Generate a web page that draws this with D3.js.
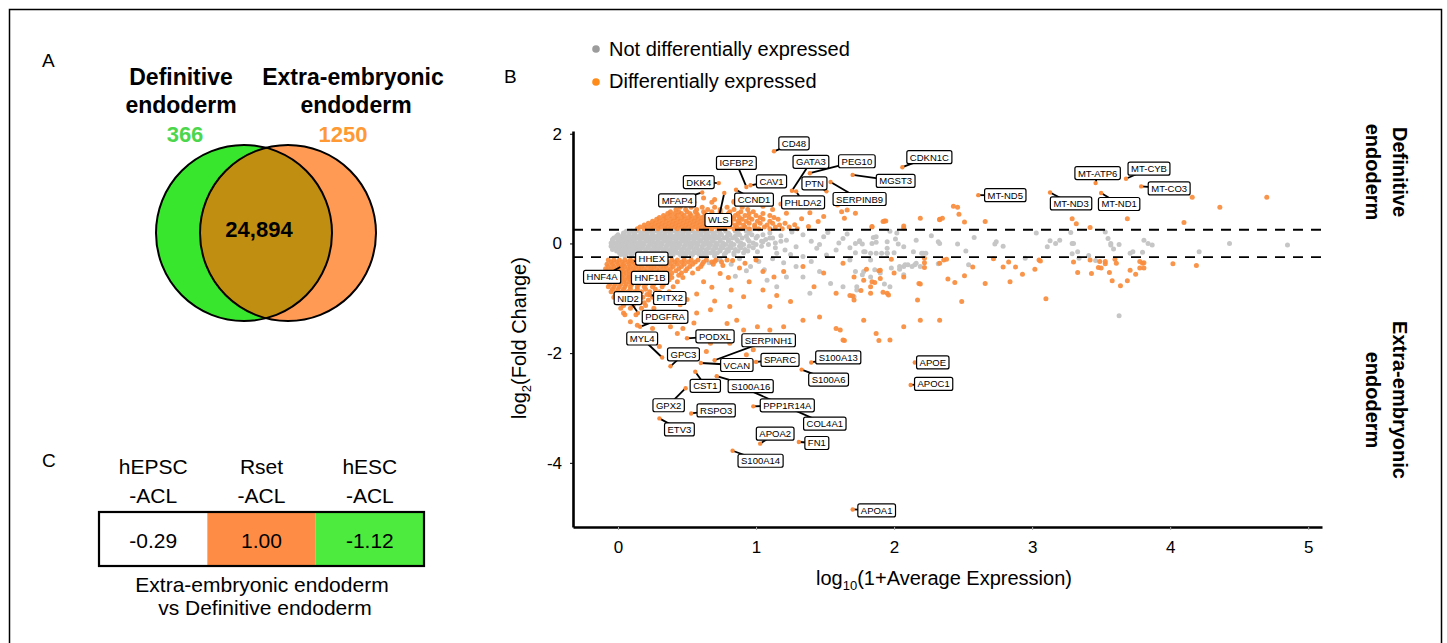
<!DOCTYPE html>
<meta charset="utf-8">
<head>
<style>
  body { margin: 0; background: #fff; font-family: "Liberation Sans", Arial, Helvetica, sans-serif; }
  svg { display: block; }
</style>
<script src="https://cdn.jsdelivr.net/npm/d3@7"></script>
</head>
<body>
<svg id="fig"></svg>
<script>
// ---- panel A: venn
let vennNames = [["Definitive", "endoderm"], ["Extra-embryonic", "endoderm"]]
let vennOnly = [366, 1250]
let vennShared = 24894

// ---- panel C: table
let tableHeads = [["hEPSC", "-ACL"], ["Rset", "-ACL"], ["hESC", "-ACL"]]
let tableValues = [-0.29, 1.00, -1.12]
let tableCaption = ["Extra-embryonic endoderm", "vs Definitive endoderm"]

// ---- panel B: MA plot
let xTicks = [0, 1, 2, 3, 4, 5]
let yTicks = [2, 0, -2, -4]
let xDomain = [-0.326, 5.1]
let yDomain = [-5.17, 2.05]
let foldCut = 0.25
let legendItems = ["Not differentially expressed", "Differentially expressed"]
let sideLabels = [["Definitive", "endoderm"], ["Extra-embryonic", "endoderm"]]

// dense core of non-DE genes, read row by row (y, x values)
let greyBand = [
  {y: 0.22, xs: [0.06,0.10,0.15,0.19,0.23,0.28,0.32,0.36,0.41,0.45,0.49,0.54,0.58,0.62,0.67,0.72,0.78,0.85,0.93]},
  {y: 0.19, xs: [0.04,0.08,0.12,0.17,0.21,0.25,0.30,0.34,0.38,0.43,0.47,0.51,0.56,0.60,0.64,0.69,0.74,0.80,0.87,0.95]},
  {y: 0.16, xs: [0.00,0.04,0.08,0.12,0.17,0.21,0.25,0.30,0.34,0.38,0.43,0.47,0.51,0.56,0.60,0.65,0.70,0.75,0.81,0.88,0.97,1.05]},
  {y: 0.13, xs: [-0.01,0.03,0.07,0.11,0.15,0.19,0.24,0.28,0.32,0.37,0.41,0.45,0.50,0.54,0.58,0.63,0.68,0.73,0.79,0.85,0.93,1.01]},
  {y: 0.10, xs: [-0.03,0.01,0.05,0.09,0.14,0.18,0.22,0.27,0.31,0.35,0.40,0.44,0.48,0.53,0.57,0.62,0.66,0.71,0.77,0.83,0.90,1.00,1.12]},
  {y: 0.07, xs: [-0.04,0.00,0.03,0.07,0.11,0.16,0.20,0.24,0.29,0.33,0.37,0.42,0.46,0.50,0.55,0.59,0.64,0.68,0.74,0.80,0.86,0.94,1.07]},
  {y: 0.04, xs: [-0.04,0.00,0.04,0.08,0.12,0.16,0.21,0.25,0.29,0.34,0.38,0.42,0.47,0.51,0.55,0.60,0.64,0.69,0.74,0.80,0.87,0.95,1.04,1.18]},
  {y: 0.01, xs: [-0.05,-0.02,0.02,0.06,0.10,0.14,0.18,0.23,0.27,0.31,0.36,0.40,0.44,0.49,0.53,0.57,0.62,0.66,0.71,0.76,0.82,0.89,0.98,1.14]},
  {y: -0.02, xs: [-0.04,0.00,0.03,0.07,0.11,0.15,0.19,0.24,0.28,0.32,0.37,0.41,0.45,0.50,0.54,0.58,0.63,0.67,0.72,0.78,0.84,0.91,1.00,1.09]},
  {y: -0.05, xs: [-0.05,-0.01,0.02,0.06,0.10,0.14,0.18,0.22,0.27,0.31,0.35,0.40,0.44,0.48,0.53,0.57,0.61,0.66,0.70,0.75,0.81,0.88,0.95,1.04]},
  {y: -0.08, xs: [-0.03,0.01,0.05,0.09,0.13,0.17,0.22,0.26,0.30,0.35,0.39,0.43,0.48,0.52,0.57,0.61,0.66,0.71,0.76,0.82,0.89,0.98]},
  {y: -0.11, xs: [-0.04,0.00,0.04,0.08,0.12,0.16,0.20,0.25,0.29,0.33,0.38,0.42,0.46,0.51,0.55,0.60,0.64,0.69,0.74,0.79,0.85,0.92]},
  {y: -0.14, xs: [-0.01,0.03,0.07,0.11,0.15,0.20,0.24,0.28,0.33,0.37,0.41,0.46,0.50,0.55,0.59,0.64,0.69,0.74,0.80,0.87,0.94]},
  {y: -0.17, xs: [0.01,0.05,0.09,0.13,0.17,0.22,0.26,0.30,0.35,0.39,0.43,0.48,0.52,0.57,0.62,0.67,0.72,0.78,0.84,0.91]},
  {y: -0.20, xs: [0.02,0.06,0.10,0.14,0.18,0.23,0.27,0.31,0.36,0.40,0.45,0.49,0.54,0.59,0.64,0.70,0.77,0.84]},
  {y: -0.23, xs: [0.05,0.10,0.16,0.21,0.27,0.33,0.39,0.46,0.53,0.61,0.70]}
]

let greyScatter = [
  [1.72,0.00],[1.75,0.05],[1.77,-0.01],[1.72,-0.17],[1.79,-0.15],[1.83,-0.18],[1.84,0.00],[1.85,0.11],[1.87,0.02],[1.87,-0.18],
  [1.91,-0.18],[1.95,0.03],[1.95,-0.09],[1.95,-0.18],[1.97,0.22],[2.01,0.08],[2.03,-0.01],[2.00,-0.17],[2.07,-0.42],[2.08,-0.39],
  [2.10,-0.39],[2.14,-0.15],[2.20,-0.18],[2.21,-0.18],[2.23,-0.18],[2.27,0.14],[2.32,0.03],[2.33,0.00],[2.46,-0.01],[2.52,-0.14],
  [2.54,-0.39],[2.58,0.11],[2.74,0.03],[2.73,-0.01],[2.79,-0.05],[2.95,-0.27],[3.03,0.19],[3.11,-0.06],[3.13,0.05],[3.17,0.00],
  [3.20,0.06],[3.28,0.20],[3.29,0.00],[3.30,0.00],[3.29,-0.19],[3.33,-0.15],[3.34,-0.27],[3.41,-0.22],[3.46,-0.31],[3.53,0.21],
  [3.55,0.09],[3.57,0.00],[3.57,-0.03],[3.59,-0.10],[3.63,-0.02],[3.71,-0.18],[3.73,-0.15],[3.80,-0.16],[3.81,0.06],[3.84,0.00],
  [3.87,-0.03],[4.21,-0.15],[4.43,0.00],[4.85,-0.03],[3.63,-1.32],
  [1.72,-0.51],[1.78,-0.51],[1.77,-0.57],[1.86,-0.48],[1.73,-0.79],[1.93,-0.74],[1.71,-0.97],[1.98,-0.45],[2.04,-0.47],[2.07,-0.57],
  [2.13,-0.42],[2.15,-0.39],[2.19,-0.42],[2.32,-0.37],
  [0.96,-0.42],[1.08,-0.67],[1.15,-0.79],[1.22,-0.61],[1.29,-0.42],[1.34,-0.61],[1.46,-0.51],[1.54,-0.73],[1.63,-0.79],[1.73,-0.85],
  [1.39,-0.91],[1.83,-0.61],[1.90,-0.54],[1.97,-0.79],[2.04,-0.42],[2.16,-0.36],
  [1.34,0.16],[1.49,0.12],[1.63,0.09],[1.75,0.03],[1.87,0.12],[2.02,0.19],[2.16,0.06],[2.07,-0.06],[1.95,-0.18],[1.78,-0.15],
  [1.58,-0.12],[1.44,-0.09],[1.29,-0.06],[1.22,0.06],[1.10,0.19],[1.15,-0.18],[1.01,-0.15],[0.96,0.25],[1.34,-0.24],[1.51,-0.21],
  [1.68,-0.30],[1.83,-0.30],
  [0.66,-0.35],[0.74,-0.30],[0.82,-0.38],[0.88,-0.28],[0.93,-0.50],[1.02,-0.33],[1.12,-0.28],[1.06,-0.48],[0.85,-0.60],[1.20,-0.35],
  [1.25,-0.20],[1.40,-0.33],[1.10,0.10],[1.18,0.14],[1.26,0.21],[1.05,0.03],[1.14,-0.08],[1.21,-0.12],[1.40,0.04],[1.46,-0.02],
  [1.52,0.20],[1.60,0.01],[1.66,0.17],[1.68,-0.08]
]

// dense DE genes above and below the cut, row by row
let orangeUpper = [
  {y: 0.27, xs: [0.14,0.19,0.24,0.29,0.34,0.38,0.43,0.48,0.53,0.58,0.63,0.68,0.73,0.78,0.84,0.89,0.95,1.02,1.10,1.19,1.30]},
  {y: 0.30, xs: [0.16,0.21,0.26,0.31,0.36,0.41,0.46,0.51,0.56,0.61,0.66,0.71,0.76,0.81,0.86,0.92,0.99,1.06,1.14,1.24]},
  {y: 0.335, xs: [0.19,0.24,0.29,0.34,0.39,0.44,0.49,0.54,0.59,0.64,0.69,0.74,0.79,0.85,0.91,0.99,1.08,1.17]},
  {y: 0.37, xs: [0.22,0.27,0.32,0.37,0.42,0.47,0.52,0.57,0.62,0.67,0.72,0.77,0.82,0.88,0.95,1.03,1.12,1.21]},
  {y: 0.405, xs: [0.25,0.30,0.35,0.40,0.45,0.50,0.55,0.60,0.65,0.70,0.75,0.81,0.87,0.93,1.01,1.10]},
  {y: 0.44, xs: [0.28,0.33,0.38,0.43,0.48,0.53,0.58,0.63,0.68,0.73,0.78,0.84,0.90,0.97,1.05,1.16]},
  {y: 0.475, xs: [0.30,0.35,0.41,0.46,0.51,0.56,0.61,0.66,0.71,0.76,0.82,0.88,0.95,1.03,1.13]},
  {y: 0.51, xs: [0.33,0.38,0.43,0.48,0.53,0.58,0.63,0.68,0.73,0.79,0.85,0.92,1.00,1.10]},
  {y: 0.545, xs: [0.36,0.41,0.46,0.52,0.57,0.63,0.68,0.74,0.80,0.87,0.95,1.05]},
  {y: 0.58, xs: [0.38,0.44,0.50,0.56,0.62,0.68,0.74,0.81,0.89,0.98]},
  {y: 0.62, xs: [0.42,0.49,0.57,0.65,0.74,0.84,0.94]},
  {y: 0.66, xs: [0.45,0.53,0.61,0.70,0.79,0.90]},
  {y: 0.75, xs: [0.55,0.68,0.84]}
]
let orangeLower = [
  {y: -0.30, xs: [-0.07,-0.03,0.01,0.05,0.09,0.13,0.17,0.21,0.26,0.30,0.34,0.39,0.43,0.48,0.53,0.58,0.64,0.71,0.79]},
  {y: -0.34, xs: [-0.05,-0.01,0.03,0.07,0.11,0.15,0.19,0.23,0.28,0.32,0.36,0.41,0.46,0.51,0.56,0.62,0.68,0.75]},
  {y: -0.38, xs: [-0.08,-0.04,0.00,0.04,0.08,0.12,0.16,0.20,0.24,0.29,0.33,0.38,0.43,0.48,0.54,0.61,0.69]},
  {y: -0.42, xs: [-0.07,-0.03,0.01,0.05,0.09,0.13,0.17,0.22,0.26,0.31,0.35,0.40,0.46,0.52,0.60]},
  {y: -0.46, xs: [-0.09,-0.05,-0.01,0.03,0.07,0.11,0.15,0.19,0.24,0.28,0.33,0.38,0.44,0.50,0.58]},
  {y: -0.50, xs: [-0.08,-0.04,0.00,0.04,0.08,0.12,0.16,0.21,0.25,0.30,0.36,0.42,0.49]},
  {y: -0.54, xs: [-0.10,-0.06,-0.02,0.02,0.06,0.10,0.14,0.18,0.23,0.28,0.33,0.39,0.46,0.54]},
  {y: -0.58, xs: [-0.08,-0.04,0.00,0.04,0.08,0.12,0.16,0.21,0.26,0.31,0.37,0.44]},
  {y: -0.62, xs: [-0.09,-0.05,-0.01,0.03,0.07,0.11,0.16,0.21,0.26,0.32,0.39,0.47]},
  {y: -0.66, xs: [-0.07,-0.03,0.01,0.05,0.09,0.14,0.19,0.24,0.30,0.37]},
  {y: -0.70, xs: [-0.08,-0.04,0.00,0.04,0.08,0.12,0.17,0.22,0.28,0.35,0.43]},
  {y: -0.745, xs: [-0.06,-0.02,0.02,0.06,0.10,0.15,0.20,0.26,0.33]},
  {y: -0.79, xs: [-0.07,-0.03,0.01,0.05,0.09,0.14,0.19,0.25,0.32,0.40]},
  {y: -0.835, xs: [-0.04,0.00,0.04,0.09,0.14,0.20,0.27]},
  {y: -0.88, xs: [-0.05,-0.01,0.03,0.07,0.12,0.17,0.23,0.30,0.37]},
  {y: -0.93, xs: [-0.02,0.03,0.08,0.14,0.21,0.29]},
  {y: -0.98, xs: [-0.03,0.02,0.07,0.12,0.18,0.25,0.33]},
  {y: -1.03, xs: [0.01,0.07,0.14,0.22]},
  {y: -1.08, xs: [0.00,0.06,0.12,0.19,0.27]},
  {y: -1.13, xs: [0.04,0.11,0.20]},
  {y: -1.18, xs: [0.02,0.09,0.17,0.26]},
  {y: -1.30, xs: [0.05,0.13,0.22]}
]

let orangeScatter = [
  [1.72,0.55],[1.84,0.30],[1.92,0.40],[1.94,0.41],[2.07,0.32],[2.19,0.46],[2.33,0.43],[2.35,0.46],[2.43,0.68],[2.46,0.66],
  [2.47,0.53],[2.51,0.39],[2.66,0.40],[3.29,0.45],[3.32,0.36],[3.42,0.29],[3.69,0.45],[4.10,0.38],[4.36,0.66],[4.70,0.84],
  [4.16,0.84],[1.93,0.41],[2.33,0.44],
  [1.98,-0.29],[1.80,-0.47],[1.89,-0.50],[1.90,-0.49],[1.90,-0.64],[1.84,-0.70],[1.86,-0.71],[1.76,-0.86],[1.83,-0.91],[1.92,-0.89],
  [1.96,-0.94],[2.00,-0.54],[2.19,-0.74],[2.17,-1.03],[2.22,-0.35],[2.22,-0.44],[2.22,-0.27],[2.33,-0.36],[2.36,-0.30],[2.38,-0.29],
  [2.39,-0.65],[2.44,-0.71],[2.51,-0.59],[2.49,-1.06],[2.57,-0.43],[2.66,-0.73],[2.33,-1.40],[2.72,-0.28],[2.79,-0.43],[2.83,-0.34],
  [2.88,-0.43],[2.84,-0.70],[2.93,-0.56],[3.02,-0.47],[3.05,-0.30],[3.06,-0.32],[3.10,-1.01],[3.30,-0.34],[3.33,-0.53],[3.42,-0.30],
  [3.43,-0.55],[3.49,-0.33],[3.48,-0.44],[3.50,-0.45],[3.53,-0.33],[3.53,-0.37],[3.56,-0.53],[3.58,-0.68],[3.60,-0.29],[3.61,-0.36],
  [3.64,-0.77],[3.69,-0.68],[3.71,-0.49],[3.75,-0.56],[3.78,-0.33],[3.80,-0.36],[3.81,-0.35],[3.81,-0.45],[3.78,-0.45],[4.02,-0.37],
  [4.19,-0.40],[1.68,-0.95],[1.70,-0.96],
  [1.39,0.56],[1.49,0.49],[1.59,0.70],[1.62,0.58],[1.64,0.46],[1.84,0.31],[2.07,0.28],[1.66,0.61],[1.28,0.34],[1.33,0.45],
  [1.22,0.55],[1.38,0.31],[1.45,0.40],[0.62,0.83],[0.70,0.80],[0.84,0.77],[0.95,0.72],[1.05,0.68],[1.12,0.62],[1.18,0.72],
  [1.05,-0.51],[1.13,-0.61],[1.20,-0.51],[1.34,-0.42],[1.49,-0.54],[1.63,-0.36],[1.71,-0.61],[1.78,-0.67],[1.42,-0.79],[1.58,-0.91],
  [1.71,-1.03],[1.83,-0.79],[1.95,-0.91],[2.07,-0.61],[2.18,-0.73],[0.91,-0.97],[0.81,-1.15],[1.10,-1.15],[1.25,-1.06],[1.34,-1.40],
  [1.46,-1.34],[1.58,-1.55],[1.63,-1.76],[1.78,-1.40],[1.87,-1.64],[1.97,-1.76],[2.07,-1.52],[2.19,-1.40],[1.01,-1.52],[1.20,-1.52],
  [0.86,-1.40],[0.72,-1.64],[0.67,-1.82],[0.98,-1.94],
  [1.61,-1.58],[1.64,-1.77],[1.89,-1.77],[0.91,-1.58],[1.10,-1.58],[0.79,-1.46],[0.57,-1.27],[0.67,-1.21],[0.38,-1.52],[0.43,-1.64],
  [0.47,-1.55],[0.64,-1.97],[0.81,-1.82],[0.93,-2.03],[0.09,-1.43],[0.04,-1.27],[0.14,-1.49],[0.30,-1.88],
  [0.70,-0.33],[0.76,-0.40],[0.83,-0.31],[0.88,-0.45],[0.74,-0.55],[0.80,-0.62],[0.92,-0.36],[1.00,-0.30],[0.62,-0.70],[0.68,-0.80],
  [0.57,-0.92],[0.50,-1.02],[0.45,-1.12],[0.35,-1.40],[0.25,-1.55],[0.20,-1.70],[0.55,-1.45],[0.95,-0.70],[1.05,-0.85],[1.15,-0.95],
  [0.82,-0.85],[0.70,-1.05]
]

// labelled genes: name, log10(1+mean), log2 FC
let genes = [
  ["CD48",1.13,1.68],["IGFBP2",0.93,1.03],["CAV1",0.96,1.06],["DKK4",0.73,1.10],["MFAP4",0.61,0.93],
  ["WLS",0.77,0.92],["CCND1",0.855,0.98],["GATA3",1.26,0.96],["PHLDA2",1.29,0.95],["PTN",1.51,0.95],
  ["PEG10",1.39,1.28],["SERPINB9",1.54,1.12],["MGST3",1.70,1.25],["CDKN1C",2.06,1.39],["MT-ND5",2.61,0.88],
  ["MT-ND3",3.13,0.93],["MT-ATP6",3.46,1.10],["MT-CYB",3.68,1.18],["MT-ND1",3.50,0.92],["MT-CO3",3.79,1.04],
  ["HHEX",0.10,-0.33],["HNF4A",0.03,-0.41],["HNF1B",0.08,-0.61],["NID2",0.145,-1.27],["PITX2",0.23,-0.94],
  ["PDGFRA",0.16,-1.52],["MYL4",0.32,-2.08],["PODXL",0.50,-1.73],["GPC3",0.38,-2.24],["SERPINH1",0.70,-2.13],
  ["VCAN",0.60,-2.18],["SPARC",1.00,-2.16],["S100A13",1.40,-2.17],["S100A6",1.33,-2.30],["CST1",0.56,-2.34],
  ["S100A16",0.715,-2.42],["COL4A1",0.81,-2.52],["PPP1R14A",0.98,-2.97],["GPX2",0.49,-2.64],["RSPO3",0.53,-3.10],
  ["ETV3",0.30,-3.19],["APOA2",1.03,-3.65],["FN1",1.31,-3.62],["S100A14",0.83,-3.78],["APOA1",1.70,-4.85],
  ["APOE",2.15,-2.17],["APOC1",2.12,-2.58]
]

// where each label box sits relative to its point (px)
let labelNudge = {
  "CD48":[20,-8],"IGFBP2":[-10,-24],"CAV1":[21,-4],"DKK4":[-20,-1],"MFAP4":[-25,8],"WLS":[-6,27],"CCND1":[18,10],
  "GATA3":[19,-29],"PHLDA2":[7,11],"PTN":[-12,-8],"PEG10":[47,-12],"SERPINB9":[29,17],"MGST3":[43,6],"CDKN1C":[27,-10],
  "MT-ND5":[27,0],"MT-ND3":[21,11],"MT-ATP6":[2,-10],"MT-CYB":[23,-10],"MT-ND1":[18,11],"MT-CO3":[28,2],
  "HHEX":[20,-3],"HNF4A":[-20,11],"HNF1B":[21,1],"NID2":[-10,-15],"PITX2":[20,3],"PDGFRA":[25,-10],"MYL4":[-20,-19],
  "PODXL":[28,-2],"GPC3":[13,-12],"SERPINH1":[54,-20],"VCAN":[36,2],"SPARC":[24,-2],"S100A13":[27,-5],"S100A6":[27,10],
  "CST1":[10,14],"S100A16":[34,10],"COL4A1":[95,42],"PPP1R14A":[34,-1],"GPX2":[-17,17],"RSPO3":[25,-3],"ETV3":[20,11],
  "APOA2":[15,-10],"FN1":[18,1],"S100A14":[28,10],"APOA1":[24,1],"APOE":[18,0],"APOC1":[23,-1]
}

const FONT = '"Liberation Sans", Arial, Helvetica, sans-serif'
const GREY = "#c6c6c6", ORANGE = "#f88b3c"

let svg = d3.select("#fig").attr("width", 1447).attr("height", 643)

// plain hyphen for negatives, like the original figure
let fmt2 = v => d3.format(".2f")(v).replace("\u2212", "-")

function addText(g, x, y, str, size, opts) {
  opts = opts || {}
  return g.append("text")
    .attr("x", x).attr("y", y)
    .attr("font-family", FONT)
    .attr("font-size", size)
    .attr("font-weight", opts.bold ? "bold" : "normal")
    .attr("text-anchor", opts.anchor || "middle")
    .attr("fill", opts.fill || "#000")
    .text(str)
}

function drawFrame() {
  svg.append("rect")
    .attr("x", 9.5).attr("y", 9.5).attr("width", 1432).attr("height", 700)
    .attr("fill", "none").attr("stroke", "#000").attr("stroke-width", 1.5)
}

function drawVenn() {
  let g = svg.append("g")
  addText(g, 42, 67, "A", 19, {anchor: "start"})

  let cx = [244, 288], cy = 233, r = 88
  g.append("clipPath").attr("id", "leftClip")
    .append("circle").attr("cx", cx[0]).attr("cy", cy).attr("r", r)

  g.append("circle").attr("cx", cx[0]).attr("cy", cy).attr("r", r).attr("fill", "#39e62e")
  g.append("circle").attr("cx", cx[1]).attr("cy", cy).attr("r", r).attr("fill", "#ff9a55")
  g.append("circle").attr("cx", cx[1]).attr("cy", cy).attr("r", r).attr("fill", "#c08f12")
    .attr("clip-path", "url(#leftClip)")
  cx.forEach(c => g.append("circle").attr("cx", c).attr("cy", cy).attr("r", r)
    .attr("fill", "none").attr("stroke", "#000").attr("stroke-width", 2))

  let nameX = [[181, 181], [353, 356]]
  vennNames.forEach((lines, i) => {
    lines.forEach((l, j) => addText(g, nameX[i][j], 85 + j * 28, l, 23, {bold: true}))
  })
  addText(g, 185, 142, vennOnly[0], 22, {bold: true, fill: "#4cd64c"})
  addText(g, 343, 142, vennOnly[1], 22, {bold: true, fill: "#ff9933"})
  addText(g, 259, 237, d3.format(",")(vennShared), 22, {bold: true})
}

function drawTable() {
  let g = svg.append("g")
  addText(g, 42, 467, "C", 19, {anchor: "start"})

  let col = d3.scaleBand().domain(tableValues.map((d, i) => i)).range([99, 424])
  let cellFill = ["#ffffff", "#ff8c45", "#4deb3d"]
  let top = 512, h = 54

  g.selectAll("rect.cell").data(tableValues).enter().append("rect")
    .attr("class", "cell")
    .attr("x", (d, i) => col(i)).attr("y", top)
    .attr("width", col.bandwidth()).attr("height", h)
    .attr("fill", (d, i) => cellFill[i])
  g.append("rect").attr("x", 99).attr("y", top).attr("width", 325).attr("height", h)
    .attr("fill", "none").attr("stroke", "#000").attr("stroke-width", 2.2)

  tableHeads.forEach((lines, i) => {
    let x = col(i) + col.bandwidth() / 2
    addText(g, x, 474, lines[0], 21)
    addText(g, x, 503, lines[1], 21)
  })
  tableValues.forEach((v, i) => {
    addText(g, col(i) + col.bandwidth() / 2, 548, fmt2(v), 21)
  })
  addText(g, 262, 592, tableCaption[0], 21)
  addText(g, 265, 615, tableCaption[1], 21)
}

function drawScatter() {
  let g = svg.append("g")
  addText(g, 504, 83, "B", 19, {anchor: "start"})

  let x = d3.scaleLinear().domain(xDomain).range([573, 1322])
  let y = d3.scaleLinear().domain(yDomain).range([527, 131])

  // legend
  let legColor = ["#9c9c9c", "#ff8c1a"]
  legendItems.forEach((t, i) => {
    g.append("circle").attr("cx", 596).attr("cy", 49 + i * 33).attr("r", 3.8).attr("fill", legColor[i])
    addText(g, 609, 56 + i * 32, t, 20, {anchor: "start"})
  })

  let rows = band => band.flatMap(r => r.xs.map(v => [v, r.y]))
  let grey = rows(greyBand).concat(greyScatter)
  let orange = rows(orangeUpper).concat(rows(orangeLower), orangeScatter)

  g.append("g").selectAll("circle").data(grey).enter().append("circle")
    .attr("cx", d => x(d[0])).attr("cy", d => y(d[1])).attr("r", 2.5).attr("fill", GREY)
  g.append("g").selectAll("circle").data(orange).enter().append("circle")
    .attr("cx", d => x(d[0])).attr("cy", d => y(d[1])).attr("r", 2.5).attr("fill", ORANGE)
    .attr("fill-opacity", 0.92)

  // fold change cut-offs
  g.selectAll("line.cut").data([foldCut, -foldCut]).enter().append("line")
    .attr("class", "cut")
    .attr("x1", x(xDomain[0])).attr("x2", x(xDomain[1]))
    .attr("y1", d => y(d)).attr("y2", d => y(d))
    .attr("stroke", "#000").attr("stroke-width", 1.8).attr("stroke-dasharray", "10,8")

  // axes
  let ax = g.append("g").attr("transform", "translate(0,527)")
    .call(d3.axisBottom(x).tickValues(xTicks).tickFormat(d => String(d)).tickSize(3).tickPadding(11).tickSizeOuter(0))
  ax.select(".domain").attr("stroke-width", 2.6)
  ax.selectAll(".tick line").attr("stroke", "#aaa")
  ax.selectAll("text").attr("font-family", FONT).attr("font-size", 17)

  let ay = g.append("g").attr("transform", "translate(573,0)")
    .call(d3.axisLeft(y).tickValues(yTicks).tickFormat(d => String(d)).tickSize(3).tickPadding(8).tickSizeOuter(0))
  ay.select(".domain").attr("stroke-width", 2.6)
  ay.selectAll("text").attr("font-family", FONT).attr("font-size", 17)

  // axis titles
  let xt = addText(g, 944, 585, "log", 20)
  xt.append("tspan").attr("dy", 5).attr("font-size", 13).text("10")
  xt.append("tspan").attr("dy", -5).text("(1+Average Expression)")

  let yt = g.append("text").attr("transform", "translate(519,338) rotate(-90)")
    .attr("font-family", FONT).attr("font-size", 20).attr("text-anchor", "middle").attr("dy", "0.35em")
    .text("log")
  yt.append("tspan").attr("dy", 5).attr("font-size", 13).text("2")
  yt.append("tspan").attr("dy", -5).text("(Fold Change)")

  // side labels
  let sideY = [172, 400]
  sideLabels.forEach((lines, i) => {
    lines.forEach((l, j) => {
      g.append("text").attr("transform", `translate(${1400 - j * 27},${sideY[i]}) rotate(90)`)
        .attr("font-family", FONT).attr("font-size", 20).attr("font-weight", "bold")
        .attr("text-anchor", "middle").attr("dy", "0.35em").text(l)
    })
  })

  // gene labels
  let lab = g.append("g")
  genes.forEach(d => {
    let px = x(d[1]), py = y(d[2])
    let off = labelNudge[d[0]]
    lab.append("line").attr("x1", px).attr("y1", py).attr("x2", px + off[0]).attr("y2", py + off[1])
      .attr("stroke", "#000").attr("stroke-width", 1.8)
    lab.append("circle").attr("cx", px).attr("cy", py).attr("r", 2.2).attr("fill", ORANGE)
  })
  genes.forEach(d => {
    let off = labelNudge[d[0]]
    let lx = x(d[1]) + off[0], ly = y(d[2]) + off[1]
    let box = lab.append("rect").attr("fill", "#fff").attr("stroke", "#000").attr("stroke-width", 1.2)
      .attr("rx", 2)
    let t = addText(lab, lx, ly + 3.5, d[0], 9.5)
    let w = t.node().getComputedTextLength() + 6
    box.attr("x", lx - w / 2).attr("y", ly - 6.5).attr("width", w).attr("height", 13)
  })
}

drawFrame()
drawVenn()
drawTable()
drawScatter()
</script>
</body>
